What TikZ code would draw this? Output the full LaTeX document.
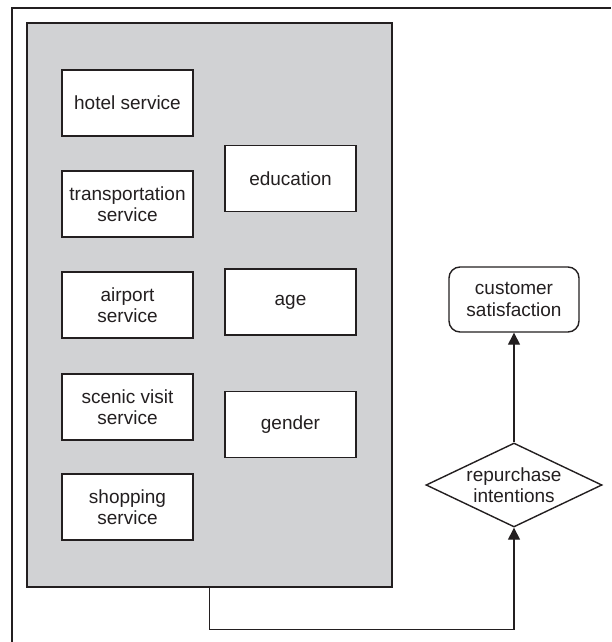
\documentclass[tikz,border=0pt]{standalone}
\usepackage{fontspec}
\setmainfont{Liberation Sans}
\usetikzlibrary{shapes.geometric,arrows.meta}
\definecolor{panelgray}{HTML}{D1D2D4}
\definecolor{inkgray}{HTML}{231F20}
\begin{document}
\begin{tikzpicture}[x=1pt, y=-1pt,
  every node/.style={draw=inkgray, line width=1.4pt, text=inkgray, align=center,
    font=\fontsize{19}{21.5}\selectfont},
  factor/.style={rectangle, fill=white, minimum width=131pt, minimum height=66pt, inner sep=2pt},
  link/.style={draw=inkgray, line width=1.4pt, >={Triangle[length=12pt,width=12pt]}}]
\useasboundingbox (0,0) rectangle (611,642);
\draw[inkgray, line width=1.4pt] (12,642) |- (611,8);
\node[rectangle, fill=panelgray, minimum width=365pt, minimum height=564pt, inner sep=0pt] (factors) at (209.5,305) {};
\node[factor] (hotel) at (127.5,103) {hotel service};
\node[factor] (transport) at (127.5,204) {transportation\\service};
\node[factor] (airport) at (127.5,305) {airport\\service};
\node[factor] (scenic) at (127.5,407) {scenic visit\\service};
\node[factor] (shopping) at (127.5,507) {shopping\\service};
\node[factor] (education) at (290.5,178.5) {education};
\node[factor] (age) at (290.5,302) {age};
\node[factor] (gender) at (290.5,424.5) {gender};
\node[rectangle, rounded corners=11pt, fill=white, minimum width=130pt, minimum height=65pt] (satisfaction) at (514,299.5) {customer\\satisfaction};
\node[diamond, fill=white, minimum width=176pt, minimum height=84pt, inner sep=0pt, aspect=2.1] (intent) at (514,485) {repurchase\\intentions};
\draw[link, ->] (factors.south) -- ++(0,42) -| (intent.south);
\draw[link, ->] (intent.north) -- (satisfaction.south);
\end{tikzpicture}
\end{document}
